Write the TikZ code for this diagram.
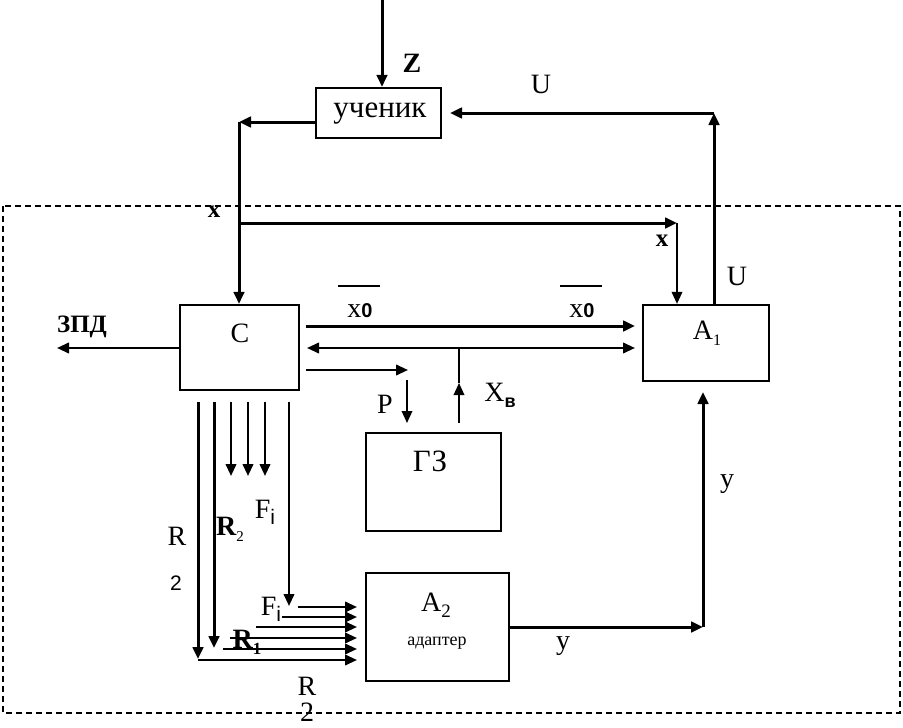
\documentclass[tikz,border=0pt]{standalone}
\usepackage{fontspec}
\setmainfont{Liberation Serif}
\setsansfont{Liberation Sans}
\usetikzlibrary{arrows.meta}
\newcommand{\mysub}[2][16]{\raisebox{-0.22em}{\fontsize{#1}{#1}\selectfont #2}}
\begin{document}
\begin{tikzpicture}[x=1pt,y=-1pt,
  box/.style={draw,line width=2.2pt,inner sep=0pt},
  lbl/.style={inner sep=0pt,font=\fontsize{28}{30}\selectfont},
  cyr/.style={inner sep=0pt,font=\fontsize{31}{33}\selectfont},
  blbl/.style={inner sep=0pt,font=\fontsize{25}{28}\selectfont\bfseries},
  ar/.style={-{Triangle[length=12pt,width=10.5pt]}},
  dar/.style={{Triangle[length=12pt,width=10.5pt]}-{Triangle[length=12pt,width=10.5pt]}},
  thk/.style={line width=3pt},
  med/.style={line width=2.3pt},
  thn/.style={line width=1.8pt}]
\useasboundingbox (0,0) rectangle (903,728);
% frame
\draw[line width=1.6pt,dash pattern=on 6pt off 4pt] (3,206) rectangle (900,713);
% boxes
\node[box,minimum width=125pt,minimum height=50pt] (uch) at (378.5,113) {};
\node[box,minimum width=119pt,minimum height=85pt] (C) at (239.5,347.5) {};
\node[box,minimum width=126pt,minimum height=76pt] (A1) at (706,343) {};
\node[box,minimum width=135pt,minimum height=98pt] (GZ) at (433.5,482) {};
\node[box,minimum width=143pt,minimum height=108pt] (A2) at (437.5,627) {};
% box texts
\node[cyr] (uchT) at (380,114) {ученик};
\node[lbl] (CT) at (240,333) {C};
\node[lbl] (A1T) at (707,333) {A\mysub[16]{1}};
\node[cyr] (GZT) at (430,461) {ГЗ};
\node[lbl] (A2T) at (436,605) {A\mysub[19]{2}};
\node[inner sep=0pt,font=\fontsize{18}{20}\selectfont] (A2s) at (437,643) {адаптер};
% coordinates
\coordinate (zTop) at (382,0);
\coordinate (uchL) at (239,122);
\coordinate (xL) at (239,223);
\coordinate (xR) at (677,223);
\coordinate (uR) at (714,113);
\coordinate (uL) at (450,113);
\coordinate (zpdE) at (57,348);
\coordinate (x0s) at (306,326);
\coordinate (x0e) at (635,326);
\coordinate (ds) at (307,348);
\coordinate (de) at (635,348);
\coordinate (jn) at (459,348);
\coordinate (xvs) at (459,423);
\coordinate (xvm) at (459,383);
\coordinate (ps) at (306,370);
\coordinate (pe) at (408,370);
\coordinate (pds) at (407,380);
\coordinate (pde) at (407,423);
\coordinate (ob1s) at (338,286);
\coordinate (ob1e) at (380,286);
\coordinate (ob2s) at (560,286);
\coordinate (ob2e) at (602,286);
\coordinate (c1s) at (198,402);
\coordinate (c1e) at (198,659);
\coordinate (c2s) at (214,402);
\coordinate (c2e) at (214,648);
\coordinate (c3s) at (231,402);
\coordinate (c3e) at (231,476);
\coordinate (c4s) at (248,402);
\coordinate (c4e) at (248,476);
\coordinate (c5s) at (265,402);
\coordinate (c5e) at (265,476);
\coordinate (c6s) at (289,402);
\coordinate (c6e) at (289,606);
\coordinate (aIn) at (357,627);
\coordinate (h1s) at (298,607);
\coordinate (h2s) at (282,617);
\coordinate (h3s) at (256,627);
\coordinate (h4s) at (230,638);
\coordinate (h5s) at (223,649);
\coordinate (h6s) at (198,660);
\coordinate (yR) at (703,627);
\coordinate (yT) at (703,392);
% connectors
\draw[ar,thk] (zTop) -- (zTop |- uch.north);
\draw[ar,thk] (uch.west |- uchL) -- (uchL);
\draw[ar,thk] (uchL) -- (uchL |- C.north);
\draw[ar,thk] (xL) -- (xR);
\draw[ar,thn] (xR) -- (xR |- A1.north);
\draw[ar,thk] (A1.north -| uR) -- (uR);
\draw[ar,thk] (uR) -- (uL);
\draw[ar,med] (C.west |- zpdE) -- (zpdE);
\draw[ar,thk] (x0s) -- (x0e);
\draw[dar,med] (ds) -- (de);
\draw[thn] (xvm) -- (jn);
\draw[ar,thn] (xvs) -- (xvm);
\draw[ar,med] (ps) -- (pe);
\draw[ar,thn] (pds) -- (pde);
\draw[med] (ob1s) -- (ob1e);
\draw[med] (ob2s) -- (ob2e);
\draw[ar,thk] (c1s) -- (c1e);
\draw[ar,thk] (c2s) -- (c2e);
\draw[ar,med] (c3s) -- (c3e);
\draw[ar,med] (c4s) -- (c4e);
\draw[ar,med] (c5s) -- (c5e);
\draw[ar,med] (c6s) -- (c6e);
\draw[ar,med] (h1s) -- (h1s -| aIn);
\draw[ar,med] (h2s) -- (h2s -| aIn);
\draw[ar,med] (h3s) -- (h3s -| aIn);
\draw[ar,med] (h4s) -- (h4s -| aIn);
\draw[ar,med] (h5s) -- (h5s -| aIn);
\draw[ar,med] (h6s) -- (h6s -| aIn);
\draw[ar,thk] (A2.east |- yR) -- (yR);
\draw[ar,thk] (yR) -- (yT);
% labels
\node[inner sep=0pt,font=\fontsize{28}{30}\selectfont\bfseries] (Zl) at (412,63) {Z};
\node[lbl] (U1) at (541,84) {U};
\node[lbl] (U2) at (737,276) {U};
\node[blbl] (xl1) at (214,212) {x};
\node[blbl] (xl2) at (662,241) {x};
\node[blbl] (zpd) at (82,327) {ЗПД};
\node[lbl] (x01) at (360,311) {x{\sffamily\bfseries\fontsize{20}{20}\selectfont 0}};
\node[lbl] (x02) at (582,311) {x{\sffamily\bfseries\fontsize{20}{20}\selectfont 0}};
\node[lbl] (Pl) at (385,404) {P};
\node[lbl] (Xv) at (500,395) {X\mysub[18]{\sffamily\bfseries в}};
\node[lbl] (y1) at (727,484) {y};
\node[lbl] (y2) at (563,646) {y};
\node[lbl] (Ra) at (177,536) {R};
\node[inner sep=0pt,font=\fontsize{21}{22}\selectfont\sffamily] (Rb) at (176,583) {2};
\node[lbl] (R2l) at (230,529) {\textbf{R}\mysub[15]{2}};
\node[lbl] (F1) at (265,512) {F\mysub[21]{\sffamily i}};
\node[lbl] (F2) at (271,609) {F\mysub[21]{\sffamily i}};
\node[lbl] (R1l) at (247,642) {\textbf{R}\mysub[17]{\textbf{1}}};
\node[lbl] (Rc) at (307,686) {R};
\node[lbl] (Rd) at (307,712) {2};
\end{tikzpicture}
\end{document}
